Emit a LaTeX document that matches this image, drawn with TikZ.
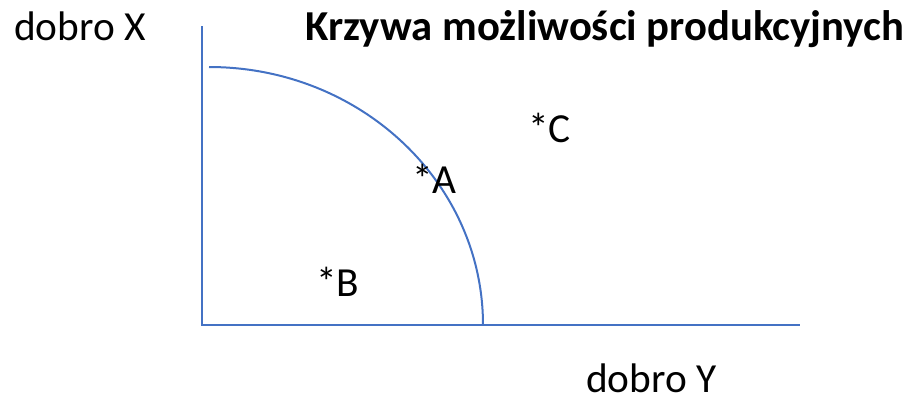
\documentclass[tikz,border=0pt]{standalone}
\usepackage{fontspec}
\setmainfont{Carlito}
\definecolor{osie}{HTML}{4472C4}

\begin{document}
\begin{tikzpicture}[x=0.75pt,y=-0.75pt,font=\fontsize{31}{36}\selectfont,
  lab/.style={anchor=base west,inner sep=0pt},
  os/.style={osie,line width=1.5pt}]
\useasboundingbox (0,0) rectangle (906,401);
\node[lab,font=\fontsize{32}{36}\selectfont\bfseries] (tytul) at (305,40) {Krzywa możliwości produkcyjnych};
\node[lab] (dobroX) at (14,40) {dobro X};
\node[lab] (dobroY) at (586,392) {dobro Y};
\coordinate (O) at (202,325); \coordinate (gora) at (202,26); \coordinate (prawo) at (800,325);
\draw[os] (gora)--(O)--(prawo);
\coordinate (start) at (209,67);
\draw[os] (start) arc[start angle=90,end angle=0,x radius=274,y radius=-258] coordinate (koniec);
\node[lab] (C) at (528,142) {*C};
\node[lab] (A) at (412,193) {*A};
\node[lab] (B) at (316,296) {*B};
\end{tikzpicture}
\end{document}
